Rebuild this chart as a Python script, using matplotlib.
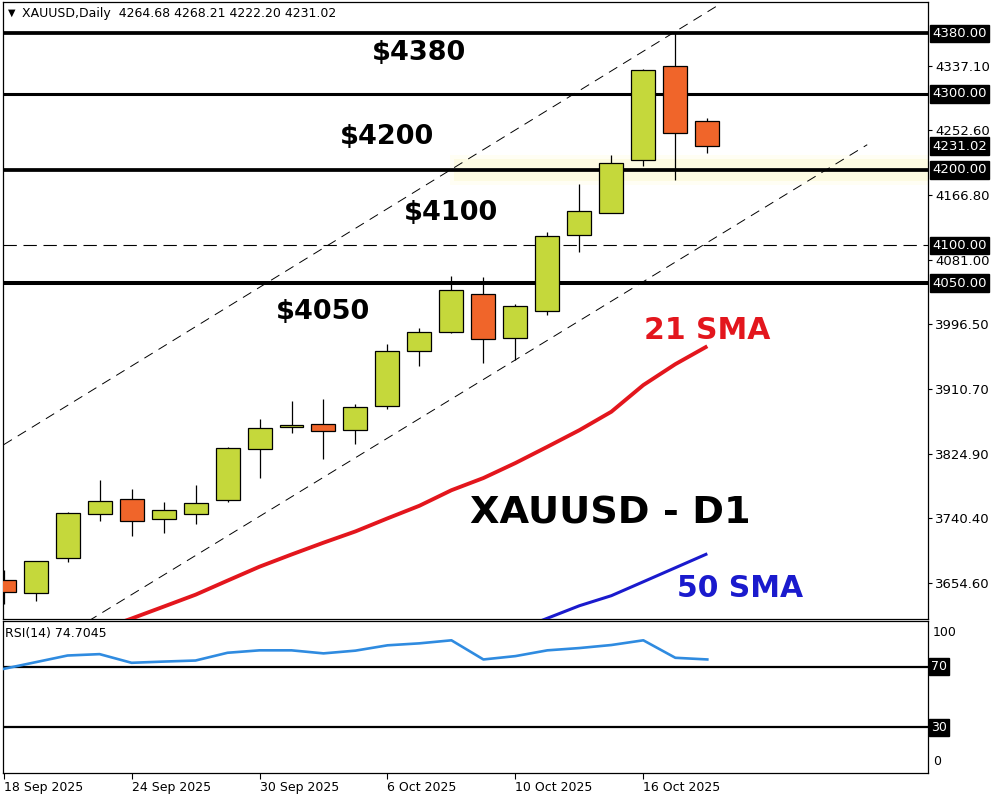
import numpy as np
import pandas as pd
import matplotlib
matplotlib.use('Agg')
import matplotlib.pyplot as plt

# --- data ---
dates = pd.bdate_range('2025-09-18', '2025-10-20')
opens = [3657.9, 3640.8, 3687.0, 3745.2, 3765.4, 3738.6, 3745.2, 3763.7, 3831.1, 3860.1,
         3864.1, 3856.5, 3887.8, 3960.9, 3985.6, 4035.8, 3977.7, 4013.3, 4113.7, 4142.8,
         4212.8, 4337.0, 4264.68]
highs = [3671.6, 3683.0, 3748.2, 3790.5, 3778.6, 3761.4, 3783.9, 3833.4, 3871.1, 3894.8,
         3897.5, 3890.9, 3970.1, 3990.9, 4060.0, 4058.3, 4022.6, 4118.1, 4181.5, 4219.8,
         4333.0, 4381.0, 4268.21]
lows = [3626.3, 3629.7, 3681.3, 3735.4, 3715.6, 3720.5, 3732.4, 3761.4, 3792.2, 3852.2,
        3817.8, 3837.7, 3883.4, 3940.2, 3984.7, 3944.1, 3949.0, 4008.1, 4091.3, 4142.8,
        4204.4, 4186.4, 4222.20]
closes = [3642.1, 3682.6, 3746.5, 3762.3, 3735.9, 3750.5, 3759.7, 3832.4, 3858.8, 3862.8,
          3854.8, 3886.5, 3960.5, 3985.6, 4041.1, 3976.4, 4019.9, 4112.4, 4145.4, 4208.9,
          4331.7, 4248.5, 4231.02]

sma21 = [3592.0, 3607.1, 3622.8, 3638.6, 3657.2, 3675.6, 3691.7, 3707.3, 3722.2, 3739.4,
         3756.1, 3776.6, 3792.7, 3812.5, 3834.0, 3855.9, 3880.3, 3915.5, 3943.1, 3966.8]
sma21_start = 3
sma50 = [3591.0, 3607.5, 3624.0, 3637.3, 3655.7, 3674.2, 3692.7]
sma50_start = 16

rsi = [68.5, 72.9, 77.3, 78.2, 72.5, 73.3, 74.0, 79.1, 80.7, 80.7, 78.7, 80.5, 84.0, 85.3,
       87.3, 74.7, 76.9, 80.7, 82.2, 84.2, 87.3, 75.8, 74.7]

# channel anchors (bar index, price)
upper_x, upper_y = [0.0, 22.28], [3836.7, 4415.7]
lower_x, lower_y = [0.0, 27.0], [3535.3, 4233.0]

solid_levels = [4380, 4300, 4200, 4050]
solid_widths = [2.7, 2.2, 2.7, 2.9]
dashed_level = 4100
boxed_levels = [4380.00, 4300.00, 4231.02, 4200.00, 4100.00, 4050.00]
grid_prices = [4337.10, 4252.60, 4166.80, 4081.00, 3996.50, 3910.70, 3824.90, 3740.40, 3654.60]
zone = (4183, 4216)
zone_start = 13.97

level_texts = ['$4380', '$4200', '$4100', '$4050']
level_text_pos = [(13.0, 4354.6), (12.0, 4243.6), (14.0, 4143.2), (10.0, 4012.4)]

label_dates = ['2025-09-18', '2025-09-24', '2025-09-30', '2025-10-06', '2025-10-10', '2025-10-16']
label_texts = ['18 Sep 2025', '24 Sep 2025', '30 Sep 2025', '6 Oct 2025', '10 Oct 2025', '16 Oct 2025']

green = '#c5d83b'
orange = '#f0652a'
W, H = 1000, 800


def px_rect(l, t, r, b):
    return [l / W, 1 - b / H, (r - l) / W, (b - t) / H]


fig = plt.figure(figsize=(10, 8), dpi=100)
ax = fig.add_axes(px_rect(3, 2, 928, 619))
rx = fig.add_axes(px_rect(3, 621, 928, 773))

x = np.arange(len(opens))
o, h, l, c = map(np.array, (opens, highs, lows, closes))
colors = [green if cc >= oo else orange for oo, cc in zip(o, c)]

xlim = (-0.02, 28.9)
ax.set_xlim(*xlim)
ax.set_ylim(3606.5, 4421.5)

# pale yellow zone around 4200
ax.fill_between([zone_start, xlim[1]], zone[0] - 3, zone[1] + 3, color='#fffef4', lw=0, zorder=0)
ax.fill_between([zone_start + 0.1, xlim[1]], zone[0] + 2, zone[1] - 2, color='#fdfbe2', lw=0, zorder=0)

# levels
for lv, lw in zip(solid_levels, solid_widths):
    ax.axhline(lv, color='black', lw=lw, zorder=2)
ax.axhline(dashed_level, color='black', lw=0.8, ls=(0, (12, 6)), zorder=2)

# channel
ax.plot(upper_x, upper_y, color='black', lw=0.7, ls=(0, (10, 7)), zorder=2)
ax.plot(lower_x, lower_y, color='black', lw=0.7, ls=(0, (10, 7)), zorder=2)

# moving averages
ax.plot(np.arange(sma21_start, sma21_start + len(sma21)), sma21, color='#e3161d', lw=2.8, zorder=3,
        solid_capstyle='butt')
ax.plot(np.arange(sma50_start, sma50_start + len(sma50)), sma50, color='#1a1acd', lw=2.2, zorder=3,
        solid_capstyle='butt')

# candles
ax.vlines(x, l, h, color='black', lw=0.9, zorder=4)
ax.bar(x, np.maximum(np.abs(c - o), 0.8), bottom=np.minimum(o, c), width=0.75, color=colors,
       edgecolor='black', linewidth=0.9, zorder=5)

# annotations
bold = dict(family='DejaVu Sans', weight='bold', ha='center', va='center', zorder=6)
for txt, (bx, by) in zip(level_texts, level_text_pos):
    ax.text(bx, by, txt, fontsize=19.5, color='black', **bold)
ax.text(22.0, 3987.3, '21 SMA', fontsize=21.5, color='#e3161d', **bold)
ax.text(18.97, 3745.6, 'XAUUSD - D1', fontsize=27.5, color='black', **bold)
ax.text(23.03, 3646.5, '50 SMA', fontsize=21.5, color='#1a1acd', **bold)

# right price axis
ax.yaxis.tick_right()
ax.set_yticks(grid_prices)
ax.set_yticklabels(['%.2f' % p for p in grid_prices])
ax.tick_params(axis='y', length=3, width=0.8, pad=2, labelsize=9.5, colors='black')
ax.set_xticks([])
yt = ax.get_yaxis_transform()
for p in boxed_levels:
    ax.text(1.0045, p, '%.2f' % p, transform=yt, fontsize=9.5, color='white', ha='left',
            va='center', bbox=dict(boxstyle='square,pad=0.18', fc='black', ec='black'), zorder=7,
            clip_on=False)

for a in (ax, rx):
    for s in a.spines.values():
        s.set_color('black')
        s.set_linewidth(0.9)

# header
fig.text(8 / W, 1 - 13 / H, '\u25BC', fontsize=7, va='center', ha='left')
fig.text(22 / W, 1 - 13 / H, 'XAUUSD,Daily  4264.68 4268.21 4222.20 4231.02', fontsize=9,
         va='center', ha='left')

# RSI panel
rx.set_xlim(*xlim)
rx.set_ylim(0, 100)
rx.axhline(70, color='black', lw=1.6)
rx.axhline(30, color='black', lw=1.6)
rx.plot(x, rsi, color='#2f8be0', lw=1.9, zorder=3)
rx.set_yticks([])
ryt = rx.get_yaxis_transform()
rx.text(1.005, 97, '100', transform=ryt, fontsize=9, va='top', ha='left')
rx.text(1.006, 3, '0', transform=ryt, fontsize=9, va='bottom', ha='left')
for v in (70, 30):
    rx.text(1.003, v, str(v), transform=ryt, fontsize=9, color='white', va='center', ha='left',
            bbox=dict(boxstyle='square,pad=0.15', fc='black', ec='black'), clip_on=False)
fig.text(5 / W, 1 - 633 / H, 'RSI(14) 74.7045', fontsize=9, va='center', ha='left')

date_idx = [list(dates.strftime('%Y-%m-%d')).index(d) for d in label_dates]
rx.set_xticks(date_idx)
rx.set_xticklabels(label_texts, ha='left')
rx.tick_params(axis='x', length=4, width=0.8, pad=2, labelsize=9)

fig.savefig('out.png', dpi=100)
